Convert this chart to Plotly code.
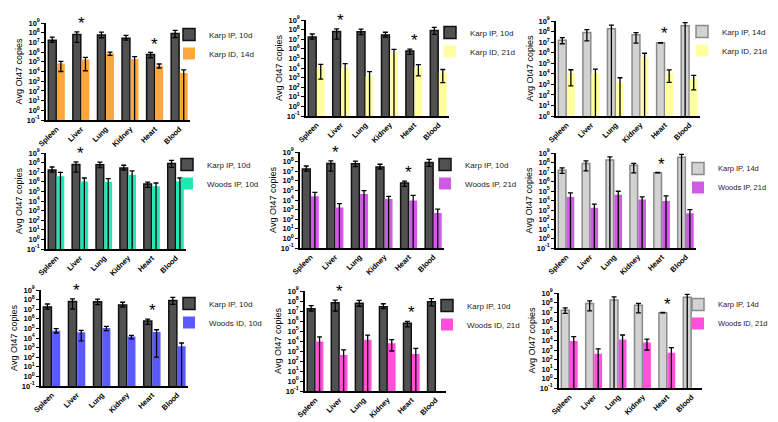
import math
import plotly.graph_objects as go

categories = ["Spleen", "Liver", "Lung", "Kidney", "Heart", "Blood"]

# mean values and error bars (plus / minus); minus == value means the bar reaches zero
karp_ip_10d = [1.7e7, 6.5e7, 5.8e7, 2.7e7, 5.8e5, 8.2e7]
karp_ip_10d_plus = [1.8e7, 5.5e7, 5.5e7, 2.6e7, 3.5e5, 9.0e7]
karp_ip_10d_minus = [7.0e6, 5.5e7, 2.8e7, 1.0e7, 3.2e5, 5.0e7]

karp_ip_14d = [1.5e7, 8.0e7, 1.8e8, 5.0e7, 8.5e6, 3.5e8]
karp_ip_14d_plus = [1.2e7, 7.0e7, 2.2e8, 3.0e7, 5.0e5, 3.5e8]
karp_ip_14d_minus = [8.0e6, 6.7e7, 1.8e8, 4.2e7, 5.0e5, 3.5e8]

karp_id_14d = [6.5e4, 1.7e5, 7.0e5, 2.0e5, 4.0e4, 7.0e3]
karp_id_14d_plus = [4.5e4, 1.2e5, 3.0e5, 1.4e5, 1.9e4, 8.0e3]
karp_id_14d_minus = [5.5e4, 1.58e5, 2.3e5, 2.0e5, 1.7e4, 7.0e3]

karp_id_21d = [1.2e4, 1.1e4, 1.5e3, 4.0e5, 1.2e4, 3.5e3]
karp_id_21d_plus = [1.2e4, 1.7e4, 2.7e3, 4.8e5, 1.1e4, 3.5e3]
karp_id_21d_minus = [1.13e4, 1.1e4, 1.5e3, 4.0e5, 1.05e4, 3.2e3]

woods_ip_10d = [3.7e6, 1.1e6, 9.5e5, 5.5e6, 3.4e5, 1.1e6]
woods_ip_10d_plus = [6.0e6, 1.4e6, 1.15e6, 8.5e6, 4.1e5, 1.4e6]
woods_ip_10d_minus = [3.7e6, 1.1e6, 9.5e5, 5.5e6, 3.4e5, 1.1e6]

woods_ip_21d = [2.4e4, 1.7e3, 4.1e4, 1.3e4, 9.0e3, 4.5e2]
woods_ip_21d_plus = [3.9e4, 2.5e3, 5.3e4, 1.1e4, 2.1e4, 6.5e2]
woods_ip_21d_minus = [2.4e4, 1.7e3, 4.1e4, 1.3e4, 9.0e3, 4.5e2]

woods_id_10d = [5.8e4, 3.9e4, 1.07e5, 1.4e4, 4.2e4, 1.4e3]
woods_id_10d_plus = [3.5e4, 2.4e4, 5.3e4, 5.0e3, 3.0e4, 1.6e3]
woods_id_10d_minus = [2.5e4, 3.4e4, 4.9e4, 6.0e3, 4.19e4, 1.4e3]

woods_id_21d = [9.0e3, 4.0e2, 1.3e4, 6.0e3, 5.0e2, None]
woods_id_21d_plus = [1.7e4, 9.0e2, 2.5e4, 8.0e3, 1.3e3, None]
woods_id_21d_minus = [9.0e3, 4.0e2, 1.3e4, 5.0e3, 5.0e2, None]

tick_exponents = [-1, 0, 1, 2, 3, 4, 5, 6, 7, 8, 9]

DARK = dict(fill="#515151", line="#111111")
LIGHT = dict(fill="#d2d2d2", line="#8a8a8a")
ORANGE = dict(fill="#ffa63c", line=None)
YELLOW = dict(fill="#ffffa0", line=None)
TEAL = dict(fill="#1fe8b4", line=None)
PURPLE = dict(fill="#d05ae6", line=None)
BLUE = dict(fill="#5a5aff", line=None)
PINK = dict(fill="#ff50dc", line=None)

S10 = ("Karp IP, 10d", karp_ip_10d, karp_ip_10d_plus, karp_ip_10d_minus, DARK)
S14 = ("Karp IP, 14d", karp_ip_14d, karp_ip_14d_plus, karp_ip_14d_minus, LIGHT)

# px / py: plot-area pixel box; leg: (swatch left, top of legend, font size)
panels = [
    dict(a=S10, b=("Karp ID, 14d", karp_id_14d, karp_id_14d_plus, karp_id_14d_minus, ORANGE),
         stars=["Liver", "Heart"], ymin=-1, px=(38, 182), py=(15, 112), leg=(181, 12, 8)),
    dict(a=S10, b=("Karp ID, 21d", karp_id_21d, karp_id_21d_plus, karp_id_21d_minus, YELLOW),
         stars=["Liver", "Heart"], ymin=-1, px=(298, 441), py=(12, 108), leg=(442, 10, 8)),
    dict(a=S14, b=("Karp ID, 21d", karp_id_21d, karp_id_21d_plus, karp_id_21d_minus, YELLOW),
         stars=["Heart"], ymin=0, px=(548, 692), py=(13, 108), leg=(694, 9, 8)),
    dict(a=S10, b=("Woods IP, 10d", woods_ip_10d, woods_ip_10d_plus, woods_ip_10d_minus, TEAL),
         stars=["Liver"], ymin=-1, px=(38, 178), py=(145, 241), leg=(179, 142, 8)),
    dict(a=S10, b=("Woods IP, 21d", woods_ip_21d, woods_ip_21d_plus, woods_ip_21d_minus, PURPLE),
         stars=["Liver", "Heart"], ymin=-1, px=(292, 436), py=(144, 240), leg=(437, 142, 8)),
    dict(a=S14, b=("Woods IP, 21d", woods_ip_21d, woods_ip_21d_plus, woods_ip_21d_minus, PURPLE),
         stars=["Heart"], ymin=-1, px=(548, 688), py=(145, 240), leg=(690, 146, 7.5)),
    dict(a=S10, b=("Woods ID, 10d", woods_id_10d, woods_id_10d_plus, woods_id_10d_minus, BLUE),
         stars=["Liver", "Heart"], ymin=-1, px=(33, 180), py=(282, 378), leg=(181, 281, 8)),
    dict(a=S10, b=("Woods ID, 21d", woods_id_21d, woods_id_21d_plus, woods_id_21d_minus, PINK),
         stars=["Liver", "Heart"], ymin=-1, px=(297, 438), py=(283, 383), leg=(439, 283, 8)),
    dict(a=S14, b=("Woods ID, 21d", woods_id_21d, woods_id_21d_plus, woods_id_21d_minus, PINK),
         stars=["Heart"], ymin=-1, px=(551, 694), py=(285, 380), leg=(690, 282, 7.5)),
]

W, H = 778, 422
FONT = "Arial, Liberation Sans, sans-serif"


def clip_minus(vals, minus):
    out = []
    for v, m in zip(vals, minus):
        if v is None:
            out.append(None)
        elif m >= v:
            out.append(v - 1e-3)
        else:
            out.append(m)
    return out


fig = go.Figure()
annotations = []
layout = {}

for i, p in enumerate(panels):
    n = "" if i == 0 else str(i + 1)
    xa, ya = "x" + n, "y" + n
    leg = "legend" + n
    for k, (name, vals, plus, minus, st) in enumerate([p["a"], p["b"]]):
        marker = dict(color=st["fill"])
        if st["line"]:
            marker["line"] = dict(color=st["line"], width=1.5)
        else:
            marker["line"] = dict(width=0)
        fig.add_trace(go.Bar(
            x=categories, y=vals, name=name, xaxis=xa, yaxis=ya, legend=leg,
            offsetgroup=str(k), marker=marker,
            error_y=dict(type="data", symmetric=False, array=plus,
                         arrayminus=clip_minus(vals, minus),
                         color="black", thickness=1.3, width=2.5),
        ))
    # significance stars above the highest error bar
    for cat in p["stars"]:
        j = categories.index(cat)
        tops = []
        for (_, vals, plus, _, _) in [p["a"], p["b"]]:
            if vals[j] is not None:
                tops.append(vals[j] + plus[j])
        ytop = math.log10(max(tops)) + 0.85
        annotations.append(dict(x=cat, y=ytop, xref=xa, yref=ya, text="*",
                                showarrow=False, yanchor="middle",
                                font=dict(size=17, color="black", family=FONT)))
    x0, x1 = p["px"]
    y0, y1 = p["py"]
    layout["xaxis" + n] = dict(
        domain=[x0 / W, x1 / W], anchor=ya, type="category",
        categoryorder="array", categoryarray=categories,
        range=[-0.43, 5.43], showline=True, linecolor="black", linewidth=1.5,
        ticks="", tickangle=-45, showgrid=False, zeroline=False,
        tickfont=dict(size=7.5, family=FONT, color="black", weight="bold"),
        automargin=False,
    )
    tv = [e for e in tick_exponents if e >= p["ymin"]]
    layout["yaxis" + n] = dict(
        domain=[1 - y1 / H, 1 - y0 / H], anchor=xa, type="log",
        range=[p["ymin"], 9], showline=True, linecolor="black", linewidth=1.5,
        ticks="outside", ticklen=3, tickwidth=1, tickcolor="black",
        tickvals=[10.0 ** e for e in tv],
        ticktext=["10<sup>%d</sup>" % e for e in tv],
        tickfont=dict(size=7.5, family=FONT, color="black", weight="bold"),
        showgrid=False, zeroline=False, automargin=False,
        title=dict(text="Avg Ot47 copies", standoff=3,
                   font=dict(size=9, family=FONT, color="black")),
    )
    sx, ly, fs = p["leg"]
    layout[leg] = dict(
        x=(sx - 20) / W, y=1 - ly / H, xanchor="left", yanchor="top",
        bgcolor="rgba(0,0,0,0)", borderwidth=0, tracegroupgap=0,
        font=dict(size=fs, family=FONT, color="#222"),
    )

fig.update_layout(
    width=W, height=H, margin=dict(l=0, r=0, t=0, b=0),
    paper_bgcolor="white", plot_bgcolor="white",
    barmode="group", bargap=0.3, bargroupgap=0.08,
    annotations=annotations, font=dict(family=FONT),
    **layout,
)

fig.write_html("out.html")
